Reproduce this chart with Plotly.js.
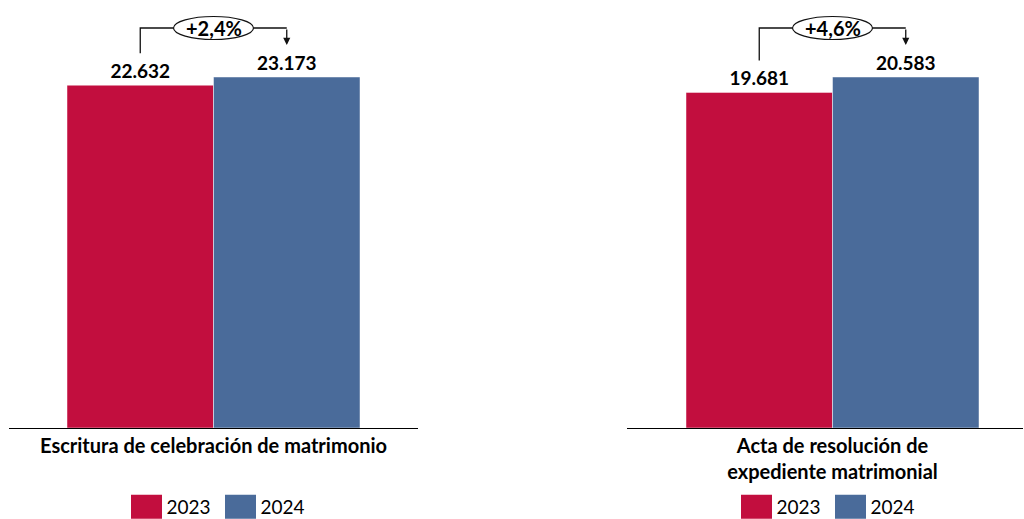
<!DOCTYPE html>
<html>
<head>
<meta charset="utf-8">
<script src="https://cdn.plot.ly/plotly-3.0.1.min.js"></script>
<style>
html,body{margin:0;padding:0;background:#fff}
#chart{width:1024px;height:519px}
</style>
</head>
<body>
<div id="chart"></div>
<script>
// ---- data ----
const years = ['2023', '2024'];
const categoriesLeft = ['Escritura de celebración de matrimonio'];
const categoriesRight = ['Acta de resolución de<br>expediente matrimonial'];
const valuesLeft = [22632, 23173];
const valuesRight = [19681, 20583];

// ---- style ----
const colors = ['#C20E3E', '#4A6B9A'];
const FONT = 'Lato, "Liberation Sans", sans-serif';
const W = 1024, H = 519;
const plotTopPx = 4, plotBottomPx = 428;
const plotHpx = plotBottomPx - plotTopPx;
const barWpx = 146.5;

const panels = [
  {cats: categoriesLeft, vals: valuesLeft, leg: 'legend',
   leftPx: 9, rightPx: 418, centerPx: 213.5, legX: 220.5},
  {cats: categoriesRight, vals: valuesRight, leg: 'legend2',
   leftPx: 627, rightPx: 1023, centerPx: 832.5, legX: 830.5}
];

const data = [], shapes = [], annotations = [];
const layout = {
  width: W, height: H,
  margin: {l: 0, r: 0, t: 0, b: 0, autoexpand: false},
  paper_bgcolor: '#fff', plot_bgcolor: '#fff',
  barmode: 'overlay',
  separators: ',.',
  font: {family: FONT, color: '#000'},
  showlegend: true
};

panels.forEach((p, i) => {
  const vmax = Math.max(...p.vals);
  const yMax = vmax * 1.208;
  const pxPerY = plotHpx / yMax;
  const plotWpx = p.rightPx - p.leftPx;
  const pxPerX = plotWpx; // data range width = 1
  const xLo = -(p.centerPx - p.leftPx) / pxPerX;
  const xHi = (p.rightPx - p.centerPx) / pxPerX;
  const bw = barWpx / pxPerX;
  const sfx = i === 0 ? '' : '2';

  layout['xaxis' + sfx] = {
    domain: [p.leftPx / W, p.rightPx / W],
    anchor: 'y' + sfx,
    type: 'category',
    range: [xLo, xHi],
    showline: true, linecolor: '#000', linewidth: 1.3,
    ticks: '', showgrid: false, zeroline: false, automargin: false,
    tickfont: {family: FONT, size: 20, color: '#000', weight: 700},
    fixedrange: true
  };
  layout['yaxis' + sfx] = {
    domain: [(H - plotBottomPx) / H, (H - plotTopPx) / H],
    anchor: 'x' + sfx,
    range: [0, yMax],
    visible: false, showgrid: false, zeroline: false, automargin: false,
    fixedrange: true
  };
  layout[p.leg] = {
    orientation: 'h', x: p.legX / W, xanchor: 'center',
    y: 12 / H, yanchor: 'middle',
    font: {family: FONT, size: 19, color: '#000'},
    entrywidth: 49, bgcolor: 'rgba(0,0,0,0)'
  };

  years.forEach((yr, k) => {
    data.push({
      type: 'bar', name: yr,
      x: p.cats, y: [p.vals[k]],
      xaxis: 'x' + sfx, yaxis: 'y' + sfx,
      width: bw, offset: k === 0 ? -bw : 0,
      marker: {color: colors[k], line: {color: 'rgba(255,255,255,0.6)', width: 0.8}},
      text: [p.vals[k]], texttemplate: '%{y:,.0f}',
      textposition: 'outside', cliponaxis: false,
      textfont: {family: FONT, size: 19, color: '#000', weight: 700},
      legend: p.leg, hoverinfo: 'skip'
    });
  });

  // bracket with percentage change
  const xRed = -bw / 2, xBlue = bw / 2;
  const yTop = p.vals[1] + 49 / pxPerY;
  const yStart = p.vals[0] + 32 / pxPerY;
  const ex = 40 / pxPerX, ey = 11.5 / pxPerY;
  const lineStyle = {color: '#111', width: 1.3};
  shapes.push({
    type: 'path', xref: 'x' + sfx, yref: 'y' + sfx,
    path: `M ${xRed},${yStart} L ${xRed},${yTop} L ${-ex},${yTop} M ${ex},${yTop} L ${xBlue},${yTop}`,
    line: lineStyle
  });
  shapes.push({
    type: 'circle', xref: 'x' + sfx, yref: 'y' + sfx,
    x0: -ex, x1: ex, y0: yTop - ey, y1: yTop + ey,
    line: {color: '#111', width: 1.2}, fillcolor: '#fff'
  });
  const pct = ((p.vals[1] - p.vals[0]) / p.vals[0] * 100);
  const pctTxt = (pct >= 0 ? '+' : '') + pct.toFixed(1).replace('.', ',') + '%';
  annotations.push({
    xref: 'x' + sfx, yref: 'y' + sfx, x: 0, y: yTop,
    text: pctTxt, showarrow: false,
    font: {family: FONT, size: 20, color: '#000', weight: 700}
  });
  annotations.push({
    xref: 'x' + sfx, yref: 'y' + sfx, x: xBlue, y: p.vals[1] + 32 / pxPerY,
    text: '', showarrow: true, axref: 'pixel', ayref: 'pixel', ax: 0, ay: -17,
    arrowhead: 2, arrowsize: 1.1, arrowwidth: 1.3, arrowcolor: '#111', standoff: 0
  });
});

layout.shapes = shapes;
layout.annotations = annotations;

function enlargeSwatches() {
  document.querySelectorAll('.legendpoints path').forEach(el => {
    el.setAttribute('d', 'M15.5,12H-15.5V-12H15.5Z');
    el.style.strokeWidth = '0';
  });
}
Plotly.newPlot('chart', data, layout, {staticPlot: true, displayModeBar: false}).then(enlargeSwatches);
</script>
</body>
</html>
